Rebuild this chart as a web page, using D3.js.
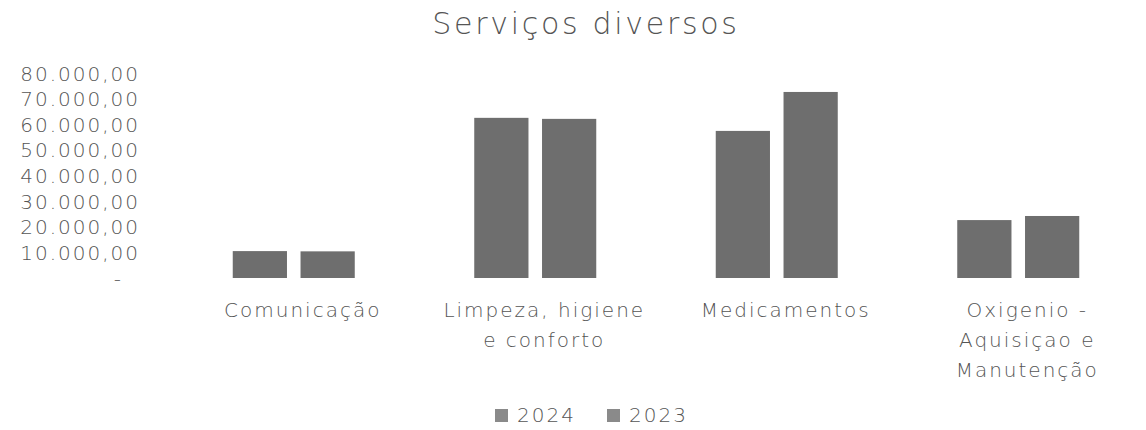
<!DOCTYPE html>
<html>
<head>
<meta charset="utf-8">
<script src="https://cdn.jsdelivr.net/npm/d3@7"></script>
<style>
	body { margin: 0; background: #fff; }
	text { font-family: "DejaVu Sans", Verdana, sans-serif; fill: #555; font-weight: 300; }
</style>
</head>
<body>
<div id="chart-div"></div>
<script>
//Chart data
var categories = ["Comunicação", "Limpeza, higiene e conforto", "Medicamentos", "Oxigenio - Aquisiçao e Manutenção"];
var catLines = [["Comunicação"], ["Limpeza, higiene", "e conforto"], ["Medicamentos"], ["Oxigenio -", "Aquisiçao e", "Manutenção"]];
var seriesNames = ["2024", "2023"];
var values2024 = [10500, 62500, 57400, 22600];
var values2023 = [10400, 62100, 72600, 24200];
var yTicks = [0, 10000, 20000, 30000, 40000, 50000, 60000, 70000, 80000];

//Canvas size and margins
var	w = 1146, h = 430,
	margin = {top: 73, right: 7, bottom: 152, left: 173},
	plotW = w - margin.left - margin.right,
	plotH = h - margin.top - margin.bottom;

var barColor = "#6e6e6e";

//Brazilian number format
var ptBR = d3.formatLocale({decimal: ",", thousands: ".", grouping: [3], currency: ["", ""]});
var fmt = ptBR.format(",.2f");

var data = categories.map(function(c, i) {
	return {cat: c, lines: catLines[i], vals: [values2024[i], values2023[i]]};
});

//Scales
var xScale = d3.scaleBand().domain(categories).range([0, plotW]).paddingInner(0).paddingOuter(0);
var xInner = d3.scaleBand().domain(seriesNames).range([xScale.bandwidth()/2 - 61, xScale.bandwidth()/2 + 61]).paddingInner(0.2);
var yScale = d3.scaleLinear().domain([0, 80000]).range([plotH, 0]);

var svg = d3.select("#chart-div")
	.append("svg")
	.attr("width", w)
	.attr("height", h);

//Title
svg.append("text")
	.attr("x", 586)
	.attr("y", 34)
	.attr("text-anchor", "middle")
	.style("font-size", "30px")
	.style("letter-spacing", "2.7px")
	.text("Serviços diversos");

var g = svg.append("g")
	.attr("transform", "translate(" + margin.left + "," + margin.top + ")");

//Y axis (labels only)
var yAxis = d3.axisLeft(yScale)
	.tickValues(yTicks)
	.tickSize(0)
	.tickPadding(33)
	.tickFormat(function(d) { return d === 0 ? "-" : fmt(d); });

var yG = g.append("g")
	.attr("class", "axis y-axis")
	.call(yAxis);
yG.select(".domain").remove();
yG.selectAll("text")
	.style("font-size", "20px")
	.style("letter-spacing", "2px")
	.style("fill", "#555")
	.style("font-family", "DejaVu Sans, sans-serif")
	.attr("dx", function(d) { return d === 0 ? -17 : 0; })
	.attr("dy", "0.35em");

//Bars
var groups = g.selectAll("g.cat")
	.data(data)
	.enter()
	.append("g")
		.attr("class", "cat")
		.attr("transform", function(d) { return "translate(" + xScale(d.cat) + ",0)"; });

groups.selectAll("rect")
	.data(function(d) { return d.vals.map(function(v, i) { return {name: seriesNames[i], v: v}; }); })
	.enter()
	.append("rect")
		.attr("x", function(d) { return xInner(d.name); })
		.attr("width", xInner.bandwidth())
		.attr("y", function(d) { return yScale(d.v); })
		.attr("height", function(d) { return plotH - yScale(d.v); })
		.attr("fill", barColor);

//Category labels
groups.append("text")
	.attr("text-anchor", "middle")
	.style("font-size", "20px")
	.style("letter-spacing", "2px")
	.attr("transform", "translate(" + (xScale.bandwidth()/2 + 9) + "," + (plotH + 39) + ")")
	.selectAll("tspan")
	.data(function(d) { return d.lines; })
	.enter()
	.append("tspan")
		.attr("x", 0)
		.attr("dy", function(d, i) { return i === 0 ? 0 : 30; })
		.text(function(d) { return d; });

//Legend
var legend = svg.append("g")
	.attr("transform", "translate(495,415)");
var legendItems = legend.selectAll("g")
	.data(seriesNames)
	.enter()
	.append("g")
		.attr("transform", function(d, i) { return "translate(" + (i * 112) + ",0)"; });
legendItems.append("rect")
	.attr("x", 0).attr("y", -6)
	.attr("width", 13).attr("height", 13)
	.attr("fill", "#8a8a8a");
legendItems.append("text")
	.attr("x", 22)
	.attr("y", 0)
	.attr("dy", "0.35em")
	.style("font-size", "20px")
	.style("letter-spacing", "2px")
	.text(function(d) { return d; });
</script>
</body>
</html>
